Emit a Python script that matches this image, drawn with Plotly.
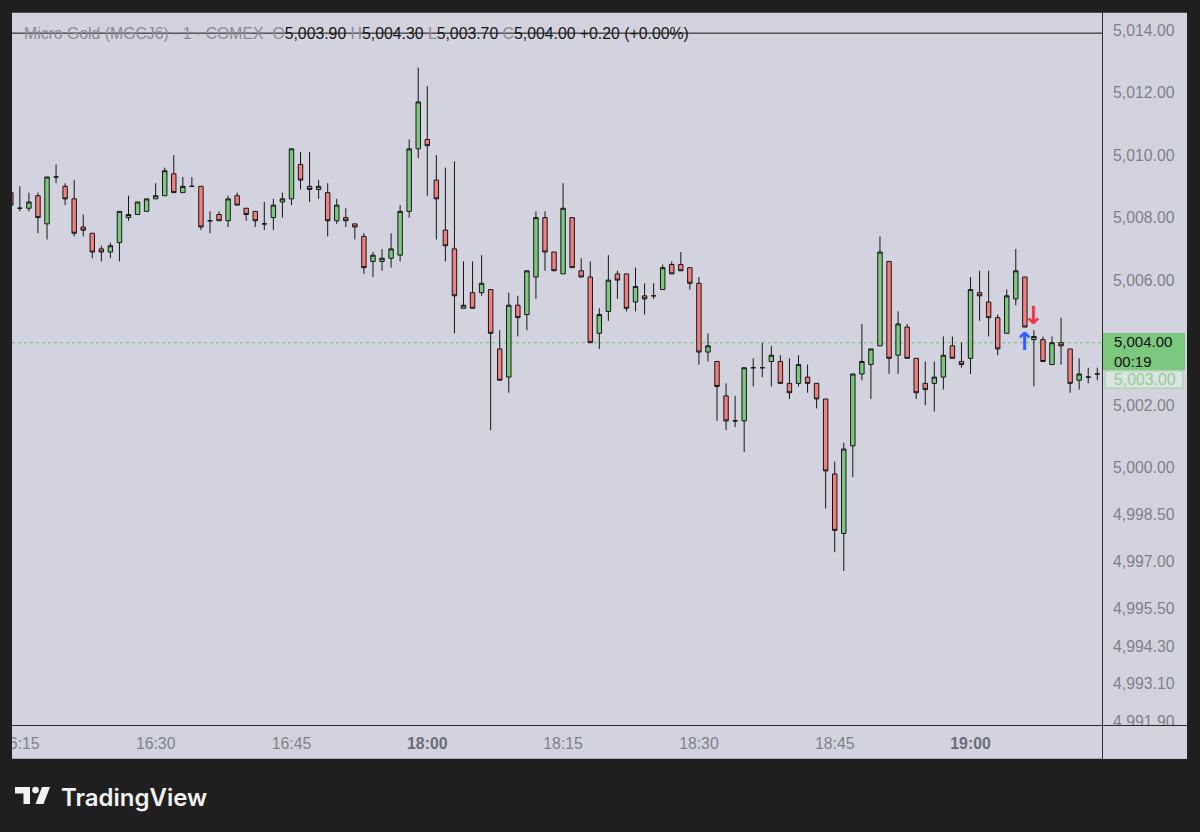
import plotly.graph_objects as go

# ---------------- data ----------------
times = [
    "16:14", "16:15", "16:16", "16:17", "16:18", "16:19", "16:20", "16:21", "16:22", "16:23",
    "16:24", "16:25", "16:26", "16:27", "16:28", "16:29", "16:30", "16:31", "16:32", "16:33",
    "16:34", "16:35", "16:36", "16:37", "16:38", "16:39", "16:40", "16:41", "16:42", "16:43",
    "16:44", "16:45", "16:46", "16:47", "16:48", "16:49", "16:50", "16:51", "16:52", "16:53",
    "16:54", "16:55", "16:56", "16:57", "16:58", "16:59",
    "18:00", "18:01", "18:02", "18:03", "18:04", "18:05", "18:06", "18:07", "18:08", "18:09",
    "18:10", "18:11", "18:12", "18:13", "18:14", "18:15", "18:16", "18:17", "18:18", "18:19",
    "18:20", "18:21", "18:22", "18:23", "18:24", "18:25", "18:26", "18:27", "18:28", "18:29",
    "18:30", "18:31", "18:32", "18:33", "18:34", "18:35", "18:36", "18:37", "18:38", "18:39",
    "18:40", "18:41", "18:42", "18:43", "18:44", "18:45", "18:46", "18:47", "18:48", "18:49",
    "18:50", "18:51", "18:52", "18:53", "18:54", "18:55", "18:56", "18:57", "18:58", "18:59",
    "19:00", "19:01", "19:02", "19:03", "19:04", "19:05", "19:06", "19:07", "19:08", "19:09",
    "19:10", "19:11", "19:12", "19:13", "19:14",
]

opens = [
    5008.8, 5008.3, 5008.3, 5008.7, 5007.8, 5009.3, 5009.0, 5008.6, 5007.7, 5007.5,
    5007.0, 5006.9, 5007.2, 5008.0, 5008.1, 5008.2, 5008.6, 5008.7, 5009.4, 5008.8,
    5009.0, 5009.0, 5007.9, 5008.1, 5007.9, 5008.7, 5008.3, 5008.2, 5007.8, 5008.0,
    5008.5, 5008.6, 5009.7, 5009.0, 5008.9, 5008.8, 5007.9, 5008.0, 5007.8, 5007.4,
    5006.6, 5006.6, 5006.7, 5006.8, 5008.2, 5010.2,
    5010.5, 5009.2, 5007.6, 5007.0, 5005.1, 5005.6, 5005.6, 5005.7, 5003.8, 5002.9,
    5005.2, 5004.9, 5006.1, 5008.0, 5006.9, 5006.2, 5008.0, 5006.3, 5006.1, 5004.3,
    5005.0, 5006.2, 5006.2, 5005.3, 5005.5, 5005.5, 5005.7, 5006.5, 5006.5, 5006.4,
    5005.9, 5003.7, 5003.4, 5002.3, 5001.5, 5001.5, 5003.2, 5003.2, 5003.4, 5003.4,
    5002.7, 5002.7, 5002.9, 5002.7, 5002.2, 4999.8, 4997.9, 5000.7, 5003.0, 5003.3,
    5003.9, 5006.6, 5003.6, 5004.5, 5003.5, 5002.7, 5002.7, 5002.9, 5003.9, 5003.4,
    5003.5, 5005.6, 5005.3, 5004.8, 5004.3, 5005.4, 5006.1, 5004.1, 5004.1, 5003.3,
    5004.0, 5003.8, 5002.8, 5002.9, 5003.0,
]
highs = [
    5008.8, 5009.0, 5008.8, 5008.8, 5009.3, 5009.7, 5009.1, 5009.2, 5008.1, 5007.5,
    5007.1, 5007.2, 5008.2, 5008.7, 5008.5, 5008.6, 5009.1, 5009.6, 5010.0, 5009.3,
    5009.3, 5009.0, 5008.2, 5008.2, 5008.7, 5008.8, 5008.3, 5008.2, 5008.5, 5008.6,
    5008.8, 5010.2, 5010.1, 5010.1, 5009.2, 5009.1, 5008.6, 5008.3, 5007.8, 5007.5,
    5006.9, 5007.0, 5007.5, 5008.4, 5010.5, 5012.8,
    5012.2, 5010.0, 5009.6, 5009.8, 5006.6, 5006.6, 5006.8, 5005.7, 5004.4, 5005.6,
    5005.5, 5006.3, 5008.2, 5008.2, 5006.9, 5009.1, 5008.0, 5006.7, 5006.6, 5005.1,
    5006.8, 5006.3, 5006.2, 5006.4, 5005.9, 5005.9, 5006.5, 5006.6, 5006.9, 5006.4,
    5006.1, 5004.3, 5003.4, 5002.7, 5002.3, 5003.2, 5003.5, 5004.0, 5003.9, 5003.6,
    5003.5, 5003.6, 5003.3, 5002.7, 5002.2, 5000.2, 5000.8, 5003.0, 5004.6, 5003.8,
    5007.4, 5006.6, 5005.0, 5004.6, 5003.5, 5003.4, 5003.4, 5004.2, 5004.2, 5004.0,
    5006.1, 5006.3, 5006.3, 5004.9, 5005.7, 5007.0, 5006.1, 5004.4, 5004.2, 5004.2,
    5004.8, 5003.8, 5003.5, 5003.2, 5003.2,
]
lows = [
    5008.4, 5008.2, 5008.2, 5007.5, 5007.3, 5009.1, 5008.4, 5007.4, 5007.4, 5006.7,
    5006.6, 5006.7, 5006.6, 5007.9, 5008.1, 5008.2, 5008.6, 5008.7, 5008.8, 5008.8,
    5009.0, 5007.6, 5007.5, 5007.9, 5007.7, 5008.4, 5007.9, 5007.7, 5007.6, 5007.6,
    5008.0, 5008.4, 5008.9, 5008.5, 5008.6, 5007.4, 5007.8, 5007.7, 5007.3, 5006.2,
    5006.1, 5006.3, 5006.4, 5006.6, 5008.0, 5009.9,
    5008.7, 5007.3, 5006.6, 5004.3, 5005.1, 5005.1, 5005.5, 5001.2, 5002.8, 5002.4,
    5004.2, 5004.4, 5005.4, 5006.3, 5006.3, 5006.2, 5006.4, 5006.1, 5004.0, 5003.8,
    5004.7, 5005.4, 5005.0, 5005.0, 5004.9, 5005.4, 5005.7, 5006.2, 5006.3, 5005.7,
    5003.3, 5003.4, 5001.5, 5001.2, 5001.3, 5000.5, 5002.6, 5002.9, 5002.6, 5002.7,
    5002.2, 5002.6, 5002.4, 5001.9, 4998.7, 4997.3, 4996.7, 4999.7, 5002.8, 5002.2,
    5003.9, 5003.0, 5003.0, 5003.5, 5002.2, 5002.0, 5001.8, 5002.5, 5003.5, 5003.2,
    5003.0, 5004.7, 5004.2, 5003.6, 5004.3, 5005.2, 5004.5, 5002.6, 5003.4, 5003.3,
    5003.3, 5002.4, 5002.5, 5002.7, 5002.8,
]
closes = [
    5008.4, 5008.3, 5008.5, 5008.0, 5009.3, 5009.3, 5008.6, 5007.5, 5007.6, 5006.9,
    5006.9, 5007.1, 5008.2, 5008.1, 5008.5, 5008.6, 5008.7, 5009.5, 5008.8, 5009.0,
    5009.0, 5007.7, 5007.9, 5007.9, 5008.6, 5008.4, 5008.1, 5007.9, 5007.8, 5008.4,
    5008.6, 5010.2, 5009.2, 5008.9, 5009.0, 5007.9, 5008.4, 5007.9, 5007.7, 5006.4,
    5006.8, 5006.7, 5007.0, 5008.2, 5010.2, 5011.7,
    5010.3, 5008.6, 5007.1, 5005.5, 5005.2, 5005.1, 5005.9, 5004.3, 5002.8, 5005.2,
    5004.8, 5006.3, 5008.0, 5006.9, 5006.3, 5008.3, 5006.4, 5006.1, 5004.0, 5004.9,
    5006.0, 5006.0, 5005.1, 5005.8, 5005.4, 5005.5, 5006.4, 5006.2, 5006.3, 5005.9,
    5003.7, 5003.9, 5002.6, 5001.5, 5001.5, 5003.2, 5003.2, 5003.2, 5003.6, 5002.7,
    5002.4, 5003.3, 5002.7, 5002.2, 4999.9, 4998.0, 5000.6, 5003.0, 5003.4, 5003.8,
    5006.9, 5003.5, 5004.6, 5003.5, 5002.4, 5002.5, 5002.9, 5003.6, 5003.5, 5003.3,
    5005.7, 5005.5, 5004.8, 5003.8, 5005.5, 5006.3, 5004.5, 5004.2, 5003.4, 5004.0,
    5003.9, 5002.7, 5003.0, 5002.9, 5003.0,
]

x_tick_labels = ["16:15", "16:30", "16:45", "18:00", "18:15", "18:30", "18:45", "19:00"]
x_bold_labels = ["18:00", "19:00"]
y_tick_values = [5014.0, 5012.0, 5010.0, 5008.0, 5006.0, 5002.0, 5000.0,
                 4998.5, 4997.0, 4995.5, 4994.3, 4993.1, 4991.9]

symbol_name = "Micro Gold (MGCJ6) · 1 · COMEX"
legend_open, legend_high, legend_low, legend_close = 5003.90, 5004.30, 5003.70, 5004.00
legend_change, legend_change_pct = 0.20, 0.00
last_price = 5004.00
countdown = "00:19"
prev_price = 5003.00
drawn_hline_price = 5013.9

marker_times = ["19:07", "19:06"]
marker_prices = [5004.87, 5004.05]
marker_dirs = ["down", "up"]

# ---------------- style ----------------
DARK = "#1f1f1f"
PANEL = "#d3d3df"
GREEN = "#7cc87e"
RED = "#f17f80"
EDGE = "#161616"
GRAY = "#7f7f8b"
FONT = "Liberation Sans, Arial, sans-serif"
FS = 15.8

W, H = 1200, 832
PL, PR, PT, PB = 12, 1102, 13, 725       # plot area in pixels
PX_PER_BAR = 9.054
PX_PER_UNIT = 31.27


def pp(x, y):
    """pixel -> paper fraction"""
    return (x - PL) / (PR - PL), (PB - y) / (PB - PT)


xi = list(range(len(times)))
x0 = 0.1325
x_range = [x0, x0 + (PR - PL) / PX_PER_BAR]
y_top = 5014.0 + (30 - PT) / PX_PER_UNIT
y_range = [y_top - (PB - PT) / PX_PER_UNIT, y_top]

fig = go.Figure()
fig.add_trace(go.Candlestick(
    x=xi, open=opens, high=highs, low=lows, close=closes,
    increasing=dict(line=dict(color=EDGE, width=1), fillcolor=GREEN),
    decreasing=dict(line=dict(color=EDGE, width=1), fillcolor=RED),
    whiskerwidth=0, showlegend=False, hoverinfo="skip",
))

tickvals = [times.index(t) for t in x_tick_labels]
ticktext = [f"<b><span style='color:#6c6c78'>{t}</span></b>" if t in x_bold_labels else t
            for t in x_tick_labels]

shapes = []
# panel background
a = pp(12, 12.7); b = pp(1187, 758.7)
shapes.append(dict(type="rect", xref="paper", yref="paper", x0=a[0], y0=b[1], x1=b[0], y1=a[1],
                   fillcolor=PANEL, line=dict(width=0), layer="below"))
# last price dotted line
shapes.append(dict(type="line", xref="paper", yref="y", x0=0, x1=1, y0=last_price, y1=last_price,
                   line=dict(color="#6fbf72", width=1, dash="dot"), layer="below"))
# drawn horizontal line
shapes.append(dict(type="line", xref="paper", yref="y", x0=0, x1=1, y0=drawn_hline_price,
                   y1=drawn_hline_price, line=dict(color="#111111", width=1), layer="above"))
# clip rect under price scale
a = pp(1103, 725.5); b = pp(1187, 758.7)
shapes.append(dict(type="rect", xref="paper", yref="paper", x0=a[0], y0=b[1], x1=b[0], y1=a[1],
                   fillcolor=PANEL, line=dict(width=0), layer="above"))
# dark cover left of panel (clips the 16:15 label)
a = pp(0, 700); b = pp(12, 770)
shapes.append(dict(type="rect", xref="paper", yref="paper", x0=a[0], y0=b[1], x1=b[0], y1=a[1],
                   fillcolor=DARK, line=dict(width=0), layer="above"))
# separator lines
a = pp(1102.5, 12.7); b = pp(1102.5, 758.7)
shapes.append(dict(type="line", xref="paper", yref="paper", x0=a[0], y0=a[1], x1=b[0], y1=b[1],
                   line=dict(color="#2a2a2e", width=1), layer="above"))
a = pp(12, 725.5); b = pp(1187, 725.5)
shapes.append(dict(type="line", xref="paper", yref="paper", x0=a[0], y0=a[1], x1=b[0], y1=b[1],
                   line=dict(color="#2a2a2e", width=1), layer="above"))
# last-price label box on the price scale
a = pp(1103, 333); b = pp(1185, 370)
shapes.append(dict(type="rect", xref="paper", yref="paper", x0=a[0], y0=b[1], x1=b[0], y1=a[1],
                   fillcolor=GREEN, line=dict(width=0), layer="above"))
# previous-price outlined box
a = pp(1105, 371); b = pp(1183, 388)
shapes.append(dict(type="rect", xref="paper", yref="paper", x0=a[0], y0=b[1], x1=b[0], y1=a[1],
                   fillcolor="#dde2e2", line=dict(width=1, color="#9ad49c"), layer="above"))


def path_px(points):
    s = ""
    for i, (px_, py_) in enumerate(points):
        fx, fy = pp(px_, py_)
        s += ("M" if i == 0 else "L") + f"{fx:.5f},{fy:.5f} "
    return s + "Z"


# TradingView logo glyph
shapes.append(dict(type="path", xref="paper", yref="paper",
                   path=path_px([(15, 787), (30, 787), (30, 804), (23.5, 804), (23.5, 793.5), (15, 793.5)]),
                   fillcolor="#f2f2f2", line=dict(width=0), layer="above"))
c0 = pp(32.2, 786.8); c1 = pp(38.8, 793.4)
shapes.append(dict(type="circle", xref="paper", yref="paper", x0=c0[0], y0=c1[1], x1=c1[0], y1=c0[1],
                   fillcolor="#f2f2f2", line=dict(width=0), layer="above"))
shapes.append(dict(type="path", xref="paper", yref="paper",
                   path=path_px([(42, 787), (50, 787), (43.5, 804), (35.5, 804)]),
                   fillcolor="#f2f2f2", line=dict(width=0), layer="above"))

annotations = []
gray_span = "<span style='color:#8a8a96'>"
legend_txt = (
    f"{gray_span}{symbol_name}  O</span>{legend_open:,.2f} "
    f"{gray_span}H</span>{legend_high:,.2f} "
    f"{gray_span}L</span>{legend_low:,.2f} "
    f"{gray_span}C</span>{legend_close:,.2f} "
    f"+{legend_change:.2f} (+{legend_change_pct:.2f}%)"
)
lx, ly = pp(22, 33.5)
annotations.append(dict(xref="paper", yref="paper", x=lx, y=ly, xanchor="left", yanchor="middle",
                        text=legend_txt, showarrow=False,
                        font=dict(family=FONT, size=FS, color="#141414")))

# last price label text
tx_, ty_ = pp(1112, 351.5)
annotations.append(dict(xref="paper", yref="paper", x=tx_, y=ty_, xanchor="left", yanchor="middle",
                        text=f"{last_price:,.2f}<br>{countdown}", align="left", showarrow=False,
                        font=dict(family=FONT, size=15, color="#111111")))
# previous price label text
tx_, ty_ = pp(1112, 379.5)
annotations.append(dict(xref="paper", yref="paper", x=tx_, y=ty_, xanchor="left", yanchor="middle",
                        text=f"{prev_price:,.2f}", align="left", showarrow=False,
                        font=dict(family=FONT, size=FS, color="#8fd191")))

# trade markers
for t, p, d in zip(marker_times, marker_prices, marker_dirs):
    annotations.append(dict(xref="x", yref="y", x=times.index(t), y=p, showarrow=False,
                            text="<b>↓</b>" if d == "down" else "<b>↑</b>",
                            font=dict(family="DejaVu Sans", size=25,
                                      color="#f23645" if d == "down" else "#2962ff"),
                            xanchor="center", yanchor="middle"))

# TradingView word mark
tx, ty = pp(59, 797)
annotations.append(dict(xref="paper", yref="paper", x=tx, y=ty, xanchor="left", yanchor="middle",
                        text="TradingView", showarrow=False,
                        font=dict(family="Inter, Liberation Sans, sans-serif", size=24,
                                  color="#f2f2f2", weight=600)))

fig.update_layout(
    template="none",
    width=W, height=H,
    paper_bgcolor=DARK, plot_bgcolor=PANEL,
    margin=dict(l=PL, r=W - PR, t=PT, b=H - PB, pad=0, autoexpand=False),
    showlegend=False,
    shapes=shapes, annotations=annotations,
    xaxis=dict(range=x_range, tickvals=tickvals, ticktext=ticktext, showgrid=False,
               zeroline=False, showline=False, ticks="", ticklabelstandoff=7, automargin=False,
               tickfont=dict(family=FONT, size=FS, color=GRAY),
               rangeslider=dict(visible=False), fixedrange=True),
    yaxis=dict(range=y_range, side="right", tickvals=y_tick_values,
               ticktext=[f"{v:,.2f}" for v in y_tick_values], showgrid=False, automargin=False,
               zeroline=False, showline=False, ticks="", ticklabelstandoff=10,
               tickfont=dict(family=FONT, size=FS, color=GRAY), fixedrange=True),
)

fig.write_html("out.html", config={"displayModeBar": False, "staticPlot": True},
               post_script="document.body.style.margin='0';")
